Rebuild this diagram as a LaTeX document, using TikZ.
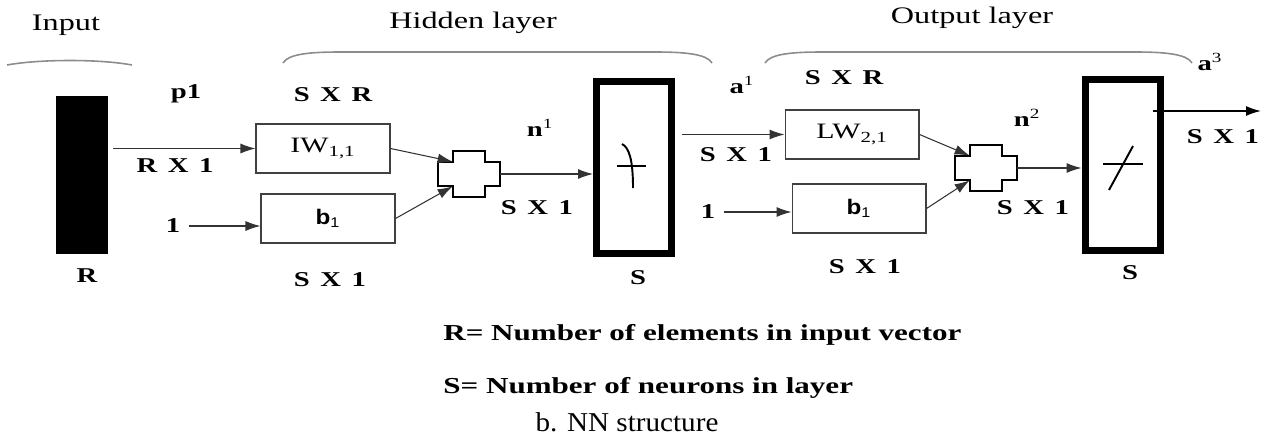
\documentclass[tikz,border=0pt]{standalone}
\usepackage{fontspec}
\setmainfont{Liberation Serif}
\newfontfamily\diagfont[FakeStretch=1.36]{Liberation Serif}
\newfontfamily\diagsans[FakeStretch=1.15]{Liberation Sans}
\newfontfamily\capfont[FakeStretch=1.07]{Liberation Serif}
\usepackage{tikz}
\usetikzlibrary{arrows.meta,positioning,calc}

\begin{document}
\begin{tikzpicture}[x=.02cm,y=-.02cm,
  lbl/.style={font={\diagfont\bfseries\fontsize{12}{14}\selectfont\spaceskip=6pt plus 1pt\relax},inner sep=0pt},
  hdr/.style={font={\diagfont\fontsize{13.5}{16}\selectfont},inner sep=0pt},
  note/.style={font={\diagfont\bfseries\fontsize{13}{15}\selectfont},inner sep=0pt,anchor=west},
  wbox/.style={draw=black!75,line width=.6pt,minimum width=2.68cm,minimum height=.98cm,inner sep=0pt,
    font={\diagfont\fontsize{12.5}{14}\selectfont}},
  bbox/.style={wbox,font={\diagsans\bfseries\fontsize{12}{14}\selectfont}},
  actbox/.style={draw=black,line width=.14cm,minimum width=1.5cm,minimum height=3.44cm},
  sumnode/.style={minimum width=.64cm,minimum height=.48cm,inner sep=0pt},
  arr/.style={-{Latex[length=.3cm,width=.2cm]},draw=black!80,line width=.6pt},
  brace/.style={draw=black!45,line width=.9pt}]
\useasboundingbox (0,0) rectangle (1273,439);
% blocks
\node[fill=black,minimum width=1.04cm,minimum height=3.16cm,inner sep=0pt] (inrect) at (82,175) {};
\node[wbox] (iw) at (323,148.5) {IW\textsubscript{1,1}};
\node[bbox] (bias1) at (328,218.5) {b\textsubscript{\mdseries 1}};
\node[sumnode] (sum1) at (469,174) {};
\node[actbox] (act1) at (634,167.5) {};
\node[wbox] (lw) at (852,134.5) {LW\textsubscript{2,1}};
\node[bbox] (bias2) at (859,208.5) {b\textsubscript{\mdseries 1}};
\node[sumnode] (sum2) at (986,168) {};
\node[actbox] (act2) at (1122.5,165) {};
\node[lbl] (one1) at (173,226) {1};
\node[lbl] (one2) at (708,212) {1};
\coordinate (outend) at (1261,111);
% summing junctions
\foreach \s in {sum1,sum2}
  \draw[line width=1.2pt] ($(\s.north west)+(0,-11)$) -- ++(32,0) -- ++(0,11) -- ++(15,0) -- ++(0,24)
    -- ++(-15,0) -- ++(0,11) -- ++(-32,0) -- ++(0,-11) -- ++(-15,0) -- ++(0,-24) -- ++(15,0) -- cycle;
% transfer functions
\draw[line width=1.1pt] ($(act1)+(-17,-1.5)$) -- ($(act1)+(12,-1.5)$);
\draw[line width=1.1pt] ($(act1)+(-12,-23.5)$) .. controls ($(act1)+(-5,-20)$) and ($(act1)+(-1,-8)$) .. ($(act1)+(-1,20.5)$);
\draw[line width=1.1pt] ($(act2)+(-19.5,-1)$) -- ($(act2)+(20.5,-1)$);
\draw[line width=1.1pt] ($(act2)+(10.5,-19)$) -- ($(act2)+(-13.5,25)$);
% connectors
\draw[arr] ($(inrect.east |- iw.west)+(5,0)$) -- (iw.west);
\draw[arr] ($(one1.east)+(8,0)$) -- (one1.east -| bias1.west);
\draw[arr] (iw.east) -- (sum1.north west);
\draw[arr] (bias1.east) -- (sum1.south west);
\draw[arr] ($(sum1.east)+(15,0)$) -- (sum1.east -| act1.west);
\draw[arr] ($(act1.east |- lw.west)+(7,0)$) -- (lw.west);
\draw[arr] ($(one2.east)+(8,0)$) -- (one2.east -| bias2.west);
\draw[arr] (lw.east) -- (sum2.north west);
\draw[arr] (bias2.east) -- (sum2.south west);
\draw[arr] ($(sum2.east)+(15,0)$) -- (sum2.east -| act2.west);
\draw[arr,draw=black,line width=.9pt] ($(act2.east |- outend)+(-11,0)$) -- (outend);
% layer brackets
\draw[brace] (7,65) .. controls (40,59) and (100,59) .. (132,65);
\draw[brace] (283,63) .. controls (288,54) and (310,52) .. (340,52) -- (655,52) .. controls (685,52) and (707,54) .. (712,63);
\draw[brace] (765,63) .. controls (770,54) and (792,52) .. (822,52) -- (1135,52) .. controls (1165,52) and (1187,54) .. (1192,63);
% labels
\node[hdr] (inlbl) at (66,25) {Input};
\node[hdr] (hidlbl) at (473,23) {Hidden layer};
\node[hdr] (outlbl) at (972,18) {Output layer};
\node[lbl] (p1) at (186,94) {p1};
\node[lbl] (sxr1) at (333,95) {S X R};
\node[lbl] (rx1) at (175,166) {R X 1};
\node[lbl] (rlbl) at (87,276) {R};
\node[lbl] (sx1a) at (330,280) {S X 1};
\node[lbl] (n1) at (540,128) {n\textsuperscript{\mdseries 1}};
\node[lbl] (sx1b) at (537,208) {S X 1};
\node[lbl] (s1) at (638,278) {S};
\node[lbl] (a1) at (742,85) {a\textsuperscript{\mdseries 1}};
\node[lbl] (sxr2) at (844,78) {S X R};
\node[lbl] (sx1c) at (736,155) {S X 1};
\node[lbl] (sx1d) at (865,267) {S X 1};
\node[lbl] (n2) at (1027,118) {n\textsuperscript{\mdseries 2}};
\node[lbl] (sx1e) at (1033,208) {S X 1};
\node[lbl] (s2) at (1130,273) {S};
\node[lbl] (a3) at (1210,62) {a\textsuperscript{\mdseries 3}};
\node[lbl] (sx1f) at (1223,137) {S X 1};
\node[note] (rnote) at (443,335) {R= Number of elements in input vector};
\node[note] (snote) at (443,388) {S= Number of neurons in layer};
\node[font={\capfont\fontsize{15.5}{18}\selectfont},inner sep=0pt] (caption) at (627,422) {b. NN structure};
\end{tikzpicture}
\end{document}
